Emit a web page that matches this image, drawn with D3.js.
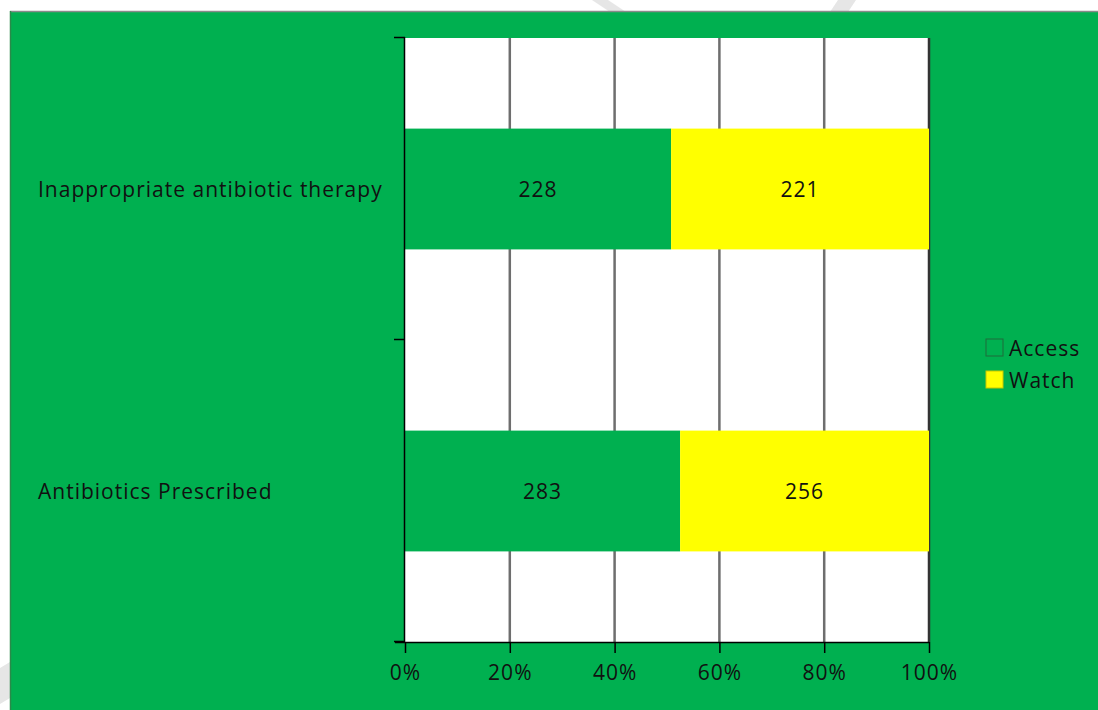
<!DOCTYPE html>
<html>
<head>
<meta charset="utf-8">
<script src="https://cdn.jsdelivr.net/npm/d3@7"></script>
<style>
  body { margin: 0; background: #fff; }
  text { font-family: "Open Sans", "Noto Sans", sans-serif; fill: #111; letter-spacing: 1px; }
</style>
</head>
<body>
<div id="vis"></div>
<script>
// categories top to bottom, and counts per series
var categories = ["Inappropriate antibiotic therapy", "Antibiotics Prescribed"];
var series = ["Access", "Watch"];
var access = [228, 283];
var watch = [221, 256];
var ticks = [0, 0.2, 0.4, 0.6, 0.8, 1];
var colors = {"Access": "#00B050", "Watch": "#FFFF00"};

var W = 1098, H = 710;
var pL = 405, pR = 929, pT = 38, pB = 642;
var fs = '21px';

var svg = d3.select('#vis').append('svg').attr('width', W).attr('height', H);

// faint watermark strokes showing around the panel
svg.append('g').attr('fill', '#e6e6e6')
  .selectAll('path')
  .data(["M592,0 L608,0 L626,12 L610,12 Z", "M838,0 L856,0 L848,12 L830,12 Z", "M0,668 L10,662 L10,698 L0,704 Z"])
  .enter().append('path').attr('d', function(d) { return d; });

// green chart area
svg.append('rect').attr('x', 10).attr('y', 11).attr('width', W - 10).attr('height', H - 11)
  .attr('fill', '#00B050');
svg.append('line').attr('x1', 10).attr('x2', W).attr('y1', 11.5).attr('y2', 11.5)
  .attr('stroke', '#8a8a8a').attr('stroke-width', 1.5);
svg.append('line').attr('x1', 10.5).attr('x2', 10.5).attr('y1', 11).attr('y2', H)
  .attr('stroke', '#2a8a4a').attr('stroke-width', 1.5);

var x = d3.scaleLinear().domain([0, 1]).range([pL, pR]);
var y = d3.scaleBand().domain(categories).range([pT, pB]).paddingInner(0.6).paddingOuter(0.3);

// white plot area
svg.append('rect').attr('x', pL).attr('y', pT).attr('width', pR - pL).attr('height', pB - pT)
  .attr('fill', '#fff');

// gridlines
svg.append('g').selectAll('line')
  .data(ticks.slice(1)).enter().append('line')
  .attr('x1', function(d) { return x(d); }).attr('x2', function(d) { return x(d); })
  .attr('y1', pT).attr('y2', pB)
  .attr('stroke', function(d) { return d === 1 ? '#333' : '#6e6e6e'; })
  .attr('stroke-width', 2.5);

// stacked percent bars
var rows = categories.map(function(c, i) {
  var t = access[i] + watch[i];
  return [
    {cat: c, s: "Access", v: access[i], x0: 0, x1: access[i] / t},
    {cat: c, s: "Watch", v: watch[i], x0: access[i] / t, x1: 1}
  ];
});
var segs = [].concat.apply([], rows);

svg.append('g').selectAll('rect')
  .data(segs).enter().append('rect')
  .attr('x', function(d) { return x(d.x0); })
  .attr('y', function(d) { return y(d.cat); })
  .attr('width', function(d) { return x(d.x1) - x(d.x0); })
  .attr('height', y.bandwidth())
  .attr('fill', function(d) { return colors[d.s]; });

svg.append('g').selectAll('text')
  .data(segs).enter().append('text')
  .attr('x', function(d) { return (x(d.x0) + x(d.x1)) / 2; })
  .attr('y', function(d) { return y(d.cat) + y.bandwidth() / 2 + 1; })
  .attr('text-anchor', 'middle').attr('dy', '0.35em')
  .style('font-size', fs)
  .text(function(d) { return d.v; });

// axes
var xAxis = svg.append('g').attr('transform', 'translate(0,' + pB + ')')
  .call(d3.axisBottom(x).tickValues(ticks).tickFormat(d3.format('.0%')).tickSize(11).tickPadding(12).tickSizeOuter(0));
xAxis.select('.domain').attr('d', 'M' + (pL - 10) + ',0.5H' + pR).attr('stroke', '#000').attr('stroke-width', 1.5);
xAxis.selectAll('.tick line').attr('stroke', '#000').attr('stroke-width', 1.5);
xAxis.selectAll('text').style('font-size', fs).attr('fill', '#111');

var yEdges = [pT, (pT + pB) / 2, pB];
svg.append('line').attr('x1', pL - 0.5).attr('x2', pL - 0.5).attr('y1', pT - 1).attr('y2', pB)
  .attr('stroke', '#000').attr('stroke-width', 1.5);
svg.append('g').selectAll('line')
  .data(yEdges).enter().append('line')
  .attr('x1', pL - 11).attr('x2', pL)
  .attr('y1', function(d) { return d - 0.5; }).attr('y2', function(d) { return d - 0.5; })
  .attr('stroke', '#000').attr('stroke-width', 1.5);

// category labels
svg.append('g').selectAll('text')
  .data(categories).enter().append('text')
  .attr('x', 38)
  .attr('y', function(d) { return y(d) + y.bandwidth() / 2 + 1; })
  .attr('dy', '0.35em')
  .style('font-size', fs)
  .text(function(d) { return d; });

// legend
var lg = svg.append('g').selectAll('g')
  .data(series).enter().append('g')
  .attr('transform', function(d, i) { return 'translate(986,' + (339 + i * 32) + ')'; });
lg.append('rect').attr('width', 17).attr('height', 17)
  .attr('fill', function(d) { return colors[d]; })
  .attr('stroke', function(d) { return d === 'Access' ? '#1f6b3a' : '#c8c800'; })
  .attr('stroke-width', 1);
lg.append('text').attr('x', 23).attr('y', 10).attr('dy', '0.35em')
  .style('font-size', fs)
  .text(function(d) { return d; });
</script>
</body>
</html>
